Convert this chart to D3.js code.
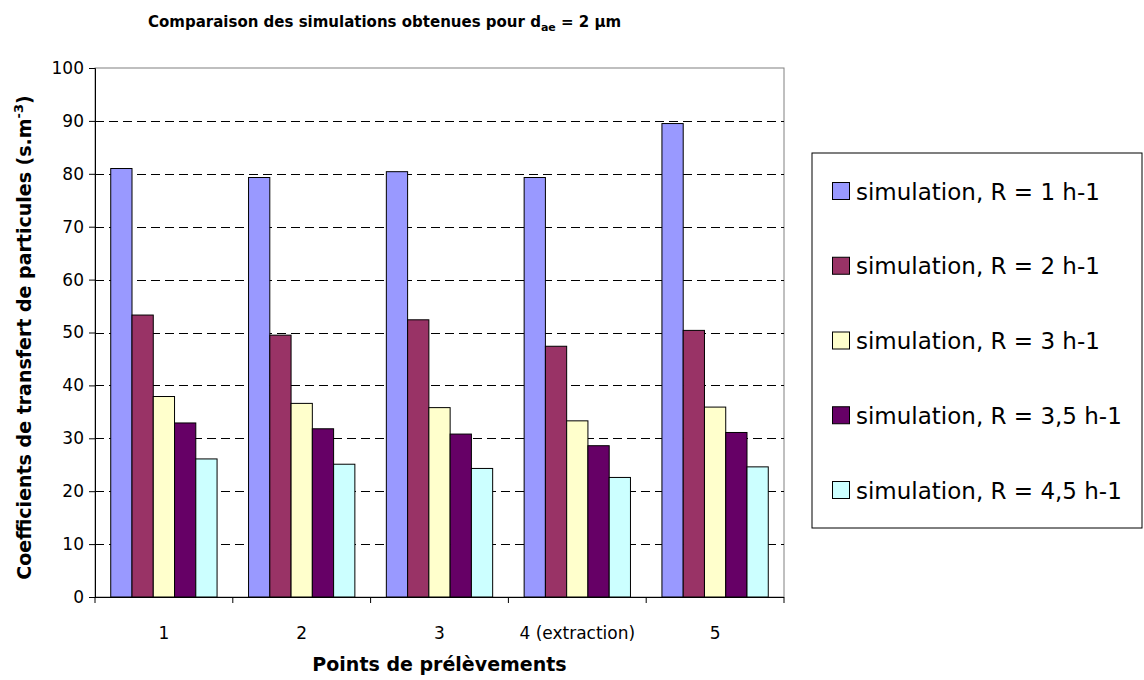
<!DOCTYPE html>
<html>
<head>
<meta charset="utf-8">
<script src="https://cdn.jsdelivr.net/npm/d3@7"></script>
<style>
  html, body { margin: 0; padding: 0; background: #fff; }
  svg { display: block; font-family: "DejaVu Sans", Verdana, sans-serif; }
</style>
</head>
<body>
<svg id="chart" width="1144" height="680"></svg>
<script>
const categories = ["1", "2", "3", "4 (extraction)", "5"];
const seriesNames = [
  "simulation, R = 1 h-1",
  "simulation, R = 2 h-1",
  "simulation, R = 3 h-1",
  "simulation, R = 3,5 h-1",
  "simulation, R = 4,5 h-1"
];
const seriesR1   = [81.0, 79.3, 80.4, 79.3, 89.5];
const seriesR2   = [53.3, 49.5, 52.4, 47.4, 50.4];
const seriesR3   = [37.9, 36.6, 35.8, 33.3, 35.9];
const seriesR35  = [32.9, 31.8, 30.8, 28.6, 31.1];
const seriesR45  = [26.1, 25.1, 24.3, 22.6, 24.6];
const seriesColors = ["#9999FF", "#993366", "#FFFFCC", "#660066", "#CCFFFF"];
const yTicks = [0, 10, 20, 30, 40, 50, 60, 70, 80, 90, 100];

const seriesValues = [seriesR1, seriesR2, seriesR3, seriesR35, seriesR45];

const svg = d3.select("#chart");
const plot = { left: 95, right: 784, top: 68, bottom: 597 };

const x0 = d3.scaleBand().domain(categories).range([plot.left, plot.right]).paddingInner(0).paddingOuter(0);
const x1 = d3.scaleBand().domain(d3.range(seriesNames.length)).range([0, x0.bandwidth()]).paddingInner(0).paddingOuter(0.74);
const y = d3.scaleLinear().domain([0, 100]).range([plot.bottom, plot.top]);

// plot area border
svg.append("rect")
  .attr("x", plot.left).attr("y", plot.top)
  .attr("width", plot.right - plot.left).attr("height", plot.bottom - plot.top)
  .attr("fill", "none").attr("stroke", "#808080").attr("stroke-width", 1);

// gridlines
svg.append("g").selectAll("line")
  .data(yTicks.filter(t => t > 0 && t < 100))
  .join("line")
  .attr("x1", plot.left).attr("x2", plot.right)
  .attr("y1", d => Math.round(y(d)) + 0.5).attr("y2", d => Math.round(y(d)) + 0.5)
  .attr("stroke", "#000").attr("stroke-width", 1)
  .attr("stroke-dasharray", "9,5");

// bars
const data = [];
categories.forEach((c, ci) => {
  seriesValues.forEach((vals, si) => data.push({ c, si, v: vals[ci] }));
});
svg.append("g").selectAll("rect")
  .data(data)
  .join("rect")
  .attr("x", d => x0(d.c) + x1(d.si))
  .attr("y", d => y(d.v))
  .attr("width", x1.bandwidth())
  .attr("height", d => y(0) - y(d.v))
  .attr("fill", d => seriesColors[d.si])
  .attr("stroke", "#000").attr("stroke-width", 1);

// y axis
const yAxis = d3.axisLeft(y).tickValues(yTicks).tickSize(6).tickPadding(5).tickFormat(d3.format("d"));
const gy = svg.append("g").attr("transform", `translate(${plot.left},0)`).call(yAxis);
gy.select(".domain").attr("stroke", "#000");
gy.selectAll(".tick line").attr("stroke", "#000");
gy.selectAll("text").attr("font-size", 17).attr("fill", "#000").attr("font-family", "DejaVu Sans");

// x axis
const gx = svg.append("g").attr("transform", `translate(0,${plot.bottom})`);
gx.append("line").attr("x1", plot.left).attr("x2", plot.right).attr("y1", 0.5).attr("y2", 0.5).attr("stroke", "#000");
const boundaries = categories.map(c => x0(c)).concat([plot.right]);
gx.selectAll("line.tk").data(boundaries).join("line").attr("class", "tk")
  .attr("x1", d => d).attr("x2", d => d).attr("y1", 0).attr("y2", 6).attr("stroke", "#000");
gx.selectAll("text").data(categories).join("text")
  .attr("x", d => x0(d) + x0.bandwidth() / 2)
  .attr("y", 42)
  .attr("text-anchor", "middle")
  .attr("font-size", 17)
  .text(d => d);

// title
const title = svg.append("text").attr("x", 148).attr("y", 27)
  .attr("font-size", 15).attr("font-weight", "bold");
title.append("tspan").text("Comparaison des simulations obtenues pour d");
title.append("tspan").attr("font-size", 11).attr("dy", 4).text("ae");
title.append("tspan").attr("dy", -4).text(" = 2 µm");

// x axis title
svg.append("text").attr("x", (plot.left + plot.right) / 2).attr("y", 671)
  .attr("text-anchor", "middle").attr("font-size", 19).attr("font-weight", "bold")
  .text("Points de prélèvements");

// y axis title
const yt = svg.append("text")
  .attr("transform", `translate(31,${(plot.top + plot.bottom) / 2 + 5}) rotate(-90)`)
  .attr("text-anchor", "middle").attr("font-size", 19).attr("font-weight", "bold");
yt.append("tspan").text("Coefficients de transfert de particules (s.m");
yt.append("tspan").attr("font-size", 13).attr("dy", -8).text("-3");
yt.append("tspan").attr("dy", 8).text(")");

// legend
const legend = svg.append("g");
legend.append("rect").attr("x", 812).attr("y", 153).attr("width", 330).attr("height", 375)
  .attr("fill", "#fff").attr("stroke", "#000").attr("stroke-width", 1);
const rowY = d3.scalePoint().domain(d3.range(seriesNames.length)).range([191, 490]);
const items = legend.selectAll("g.item").data(seriesNames).join("g").attr("class", "item")
  .attr("transform", (d, i) => `translate(0,${rowY(i)})`);
items.append("rect").attr("x", 832.5).attr("y", -8.5).attr("width", 17).attr("height", 17)
  .attr("fill", (d, i) => seriesColors[i]).attr("stroke", "#000");
items.append("text").attr("x", 856).attr("y", 8.5).attr("font-size", 23).text(d => d);
</script>
</body>
</html>
